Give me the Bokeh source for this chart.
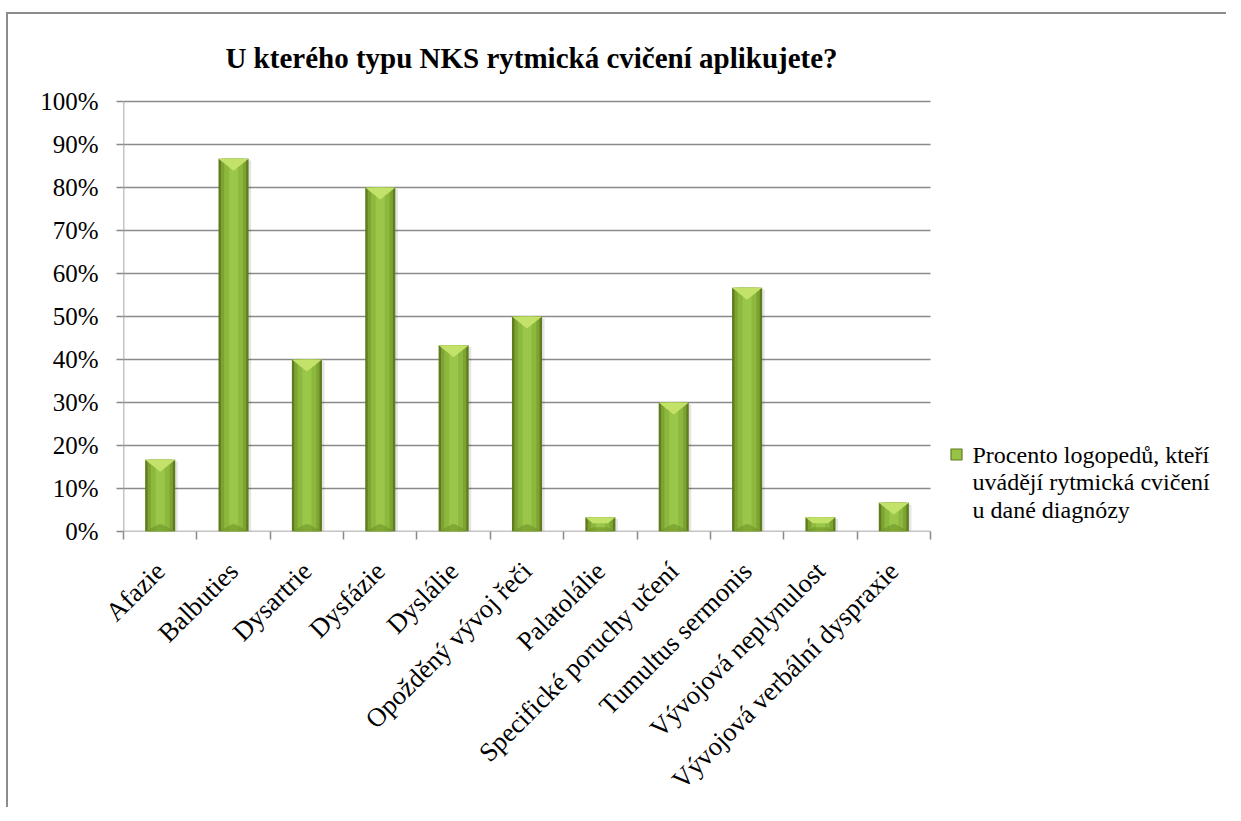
import numpy as np
from bokeh.plotting import figure
from bokeh.models import Range1d, FixedTicker, NumeralTickFormatter, Label
from bokeh.embed import file_html
from bokeh.resources import INLINE

# ---- data ----
categories = ["Afazie", "Balbuties", "Dysartrie", "Dysfázie", "Dyslálie",
              "Opožděný vývoj řeči", "Palatolálie", "Specifické poruchy učení",
              "Tumultus sermonis", "Vývojová neplynulost", "Vývojová verbální dyspraxie"]
values_pct = [16.7, 86.7, 40.0, 80.0, 43.3, 50.0, 3.3, 30.0, 56.7, 3.3, 6.7]
y_ticks = [0, 10, 20, 30, 40, 50, 60, 70, 80, 90, 100]
title_text = "U kterého typu NKS rytmická cvičení aplikujete?"
legend_lines = ["Procento logopedů, kteří", "uvádějí rytmická cvičení", "u dané diagnózy"]

SERIF = "Liberation Serif"
GREY = "#8a8a8a"

n = len(categories)
xs = np.arange(n) + 0.5
vals = np.array(values_pct) / 100.0
ticks = [t / 100 for t in y_ticks]

# frame: plot area of the categories is 807 x 430 px; frame extended right/up for legend & title
PX_X = 807 / n     # px per category
PX_Y = 430.0       # px per unit (100 %)
FW, FH = 1097, 502
x_end = FW / PX_X
y_end = FH / PX_Y

p = figure(width=1220, height=795, output_backend="svg", toolbar_location=None,
           x_range=Range1d(0, x_end), y_range=Range1d(0, y_end),
           min_border_left=115, min_border_right=1220 - 115 - FW,
           min_border_top=15, min_border_bottom=795 - 15 - FH)
p.margin = (12, 0, 0, 6)
p.styles = {"border-top": "2px solid #8c8c8c", "border-left": "2px solid #8c8c8c"}
p.outline_line_color = None
p.background_fill_color = "white"
p.border_fill_color = "white"
p.grid.visible = False

# gridlines and axis lines drawn within the category area
p.segment(x0=[0] * len(ticks), y0=ticks, x1=[n] * len(ticks), y1=ticks,
          line_color=GREY, line_width=1.5)
p.segment(x0=[0], y0=[0], x1=[0], y1=[ticks[-1]], line_color=GREY, line_width=1.5)

# y axis
p.yaxis.ticker = FixedTicker(ticks=ticks)
p.yaxis.formatter = NumeralTickFormatter(format="0%")
p.yaxis.axis_line_color = None
p.yaxis.major_tick_line_color = GREY
p.yaxis.major_tick_line_width = 1.5
p.yaxis.major_tick_out = 7
p.yaxis.major_tick_in = 0
p.yaxis.minor_tick_line_color = None
p.yaxis.major_label_text_font = SERIF
p.yaxis.major_label_text_font_size = "25px"
p.yaxis.major_label_text_color = "black"
p.yaxis.major_label_standoff = 18

# x axis
p.xaxis.ticker = FixedTicker(ticks=list(xs), minor_ticks=list(range(n + 1)))
p.xaxis.major_label_overrides = {float(x): c for x, c in zip(xs, categories)}
p.xaxis.major_label_orientation = np.pi / 4
p.xaxis.major_tick_line_color = None
p.xaxis.minor_tick_line_color = GREY
p.xaxis.minor_tick_line_width = 1.5
p.xaxis.minor_tick_out = 8
p.xaxis.minor_tick_in = 0
p.xaxis.axis_line_color = None
p.xaxis.major_label_text_font = SERIF
p.xaxis.major_label_text_font_size = "26.5px"
p.xaxis.major_label_text_color = "black"
p.xaxis.major_label_standoff = 27

# bars (layered to mimic bevel/gradient)
w = 0.41
p.vbar(x=xs + 0.025, width=w + 0.02, top=vals - 0.004, bottom=0.002,
       fill_color="black", fill_alpha=0.10, line_color=None)
p.vbar(x=xs, width=w, top=vals, bottom=0, fill_color="#5f7d1e", line_color=None)
p.vbar(x=xs, width=w * 0.84, top=vals, bottom=0, fill_color="#7da432", line_color=None)
p.vbar(x=xs, width=w * 0.62, top=vals, bottom=0, fill_color="#8db83e", line_color=None)
p.vbar(x=xs, width=w * 0.30, top=vals, bottom=0, fill_color="#9ac749", line_color=None)

# top bevel (light) derived from the values
full = 0.028
bx, by = [], []
for x, v in zip(xs, vals):
    h = min(full, v * 0.42)
    d = (w / 2) * (h / full)
    bx.append([x - w / 2, x + w / 2, x + w / 2 - d, x - w / 2 + d])
    by.append([v, v, v - h, v - h])
p.patches(bx, by, fill_color="#c3e26a", line_color=None)

# bottom bevel (subtle dark)
dbx, dby = [], []
for x, v in zip(xs, vals):
    h = min(full * 0.6, v * 0.3)
    d = (w / 2) * (h / (full * 0.6)) * 0.9
    dbx.append([x - w / 2, x + w / 2, x + w / 2 - d, x - w / 2 + d])
    dby.append([0, 0, h, h])
p.patches(dbx, dby, fill_color="#6e9228", fill_alpha=0.6, line_color=None)

# title (page px -> data)
def dx(px):
    return (px - 123) / PX_X

def dy(py):
    return (532 - py) / PX_Y

p.add_layout(Label(x=dx(531), y=dy(58), text=title_text, text_align="center",
                   text_baseline="middle", text_font=SERIF, text_font_style="bold",
                   text_font_size="29px", text_color="black"))

# legend
p.scatter(x=[dx(956)], y=[dy(455)], marker="square", size=11,
          fill_color="#96c345", line_color="#5f7d1e", line_width=1.2)
for i, t in enumerate(legend_lines):
    p.add_layout(Label(x=dx(972), y=dy(455 + 27.5 * i), text=t, text_align="left",
                       text_baseline="middle", text_font=SERIF, text_font_size="24px",
                       text_color="black"))

open("out.html", "w").write(file_html(p, INLINE))
